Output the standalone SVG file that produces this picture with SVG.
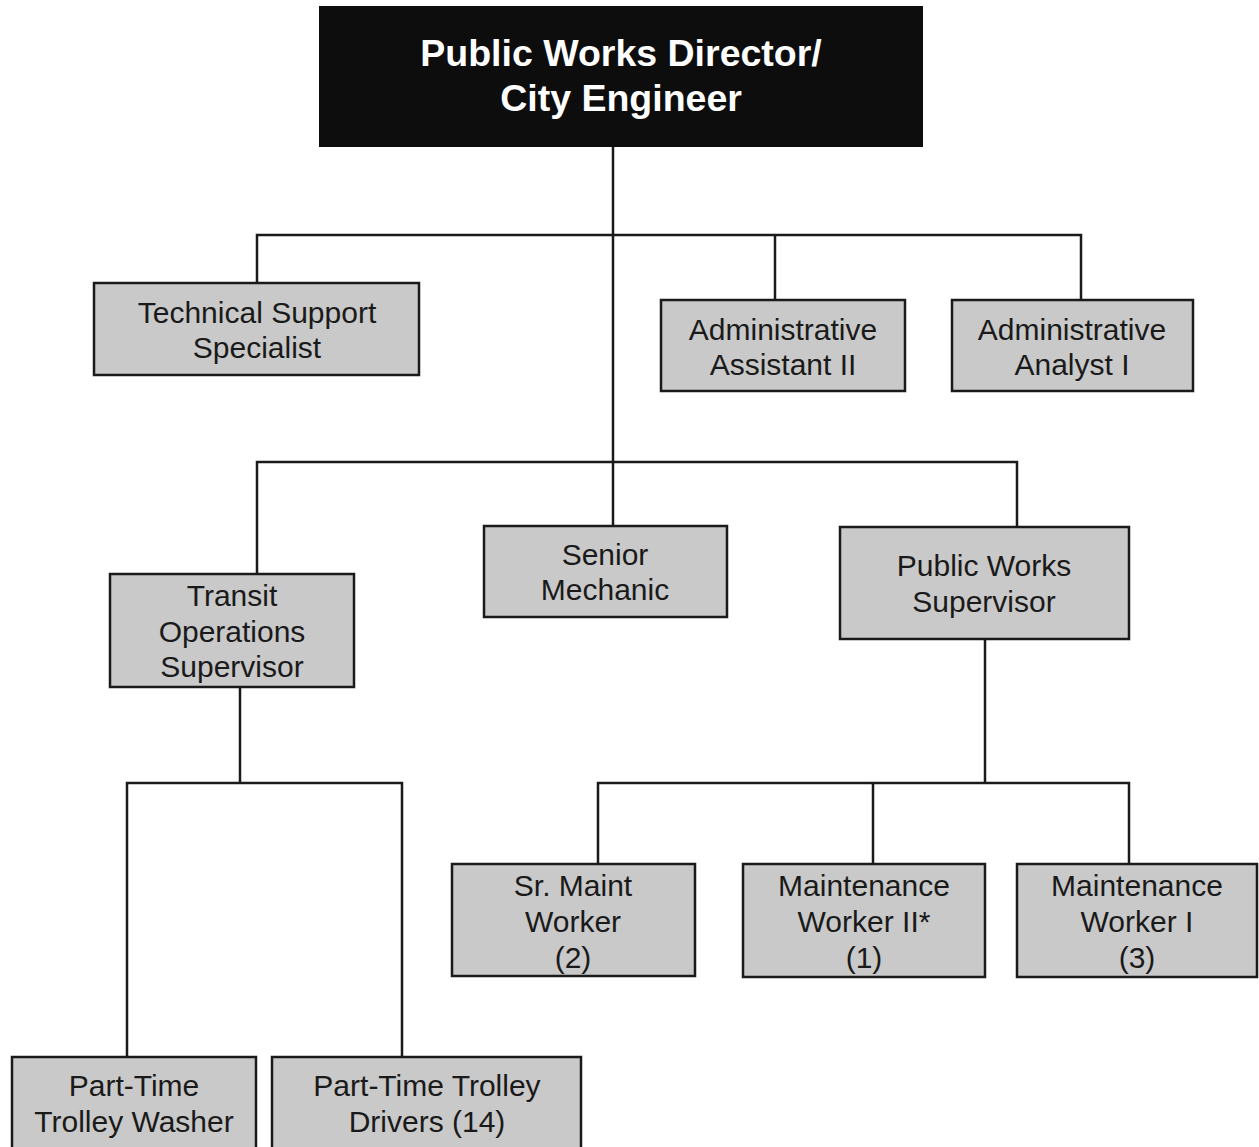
<svg xmlns="http://www.w3.org/2000/svg" width="1259" height="1147" viewBox="0 0 1259 1147">
<style>
.box{fill:#c9c9c9;stroke:#1a1a1a;stroke-width:2.5}
.top{fill:#0d0d0d;stroke:#0d0d0d;stroke-width:2}
.t{font-family:"Liberation Sans",Arial,sans-serif;font-size:30px;fill:#1a1a1a;text-anchor:middle}
.tt{font-family:"Liberation Sans",Arial,sans-serif;font-size:37.5px;font-weight:bold;fill:#ffffff;text-anchor:middle}
.c{fill:none;stroke:#1a1a1a;stroke-width:2.5}
</style>
<rect width="1259" height="1147" fill="#ffffff"/>
<g id="connectors">
<path class="c" d="M613 146V526"/>
<path class="c" d="M257 283V235H1081V300"/>
<path class="c" d="M775 235V300"/>
<path class="c" d="M257 574V462H1017V527"/>
<path class="c" d="M240 687V783"/>
<path class="c" d="M127 1057V783H402V1057"/>
<path class="c" d="M985 639V783"/>
<path class="c" d="M598 864V783H1129V864"/>
<path class="c" d="M873 783V864"/>
</g>
<g id="director">
<rect class="top" x="320" y="7" width="602" height="139"/>
<text class="tt" x="621" y="66">Public Works Director/</text>
<text class="tt" x="621" y="111">City Engineer</text>
</g>
<g id="tech-support">
<rect class="box" x="94" y="283" width="325" height="92"/>
<text class="t" x="257" y="323">Technical Support</text>
<text class="t" x="257" y="358">Specialist</text>
</g>
<g id="admin-assistant">
<rect class="box" x="661" y="300" width="244" height="91"/>
<text class="t" x="783" y="340">Administrative</text>
<text class="t" x="783" y="375">Assistant II</text>
</g>
<g id="admin-analyst">
<rect class="box" x="952" y="300" width="241" height="91"/>
<text class="t" x="1072" y="340">Administrative</text>
<text class="t" x="1072" y="375">Analyst I</text>
</g>
<g id="transit-supervisor">
<rect class="box" x="110" y="574" width="244" height="113"/>
<text class="t" x="232" y="606">Transit</text>
<text class="t" x="232" y="642">Operations</text>
<text class="t" x="232" y="677">Supervisor</text>
</g>
<g id="senior-mechanic">
<rect class="box" x="484" y="526" width="243" height="91"/>
<text class="t" x="605" y="565">Senior</text>
<text class="t" x="605" y="600">Mechanic</text>
</g>
<g id="pw-supervisor">
<rect class="box" x="840" y="527" width="289" height="112"/>
<text class="t" x="984" y="576">Public Works</text>
<text class="t" x="984" y="612">Supervisor</text>
</g>
<g id="sr-maint">
<rect class="box" x="452" y="864" width="243" height="112"/>
<text class="t" x="573" y="896">Sr. Maint</text>
<text class="t" x="573" y="932">Worker</text>
<text class="t" x="573" y="968">(2)</text>
</g>
<g id="maint-ii">
<rect class="box" x="743" y="864" width="242" height="113"/>
<text class="t" x="864" y="896">Maintenance</text>
<text class="t" x="864" y="932">Worker II*</text>
<text class="t" x="864" y="968">(1)</text>
</g>
<g id="maint-i">
<rect class="box" x="1017" y="864" width="240" height="113"/>
<text class="t" x="1137" y="896">Maintenance</text>
<text class="t" x="1137" y="932">Worker I</text>
<text class="t" x="1137" y="968">(3)</text>
</g>
<g id="trolley-washer">
<rect class="box" x="12" y="1057" width="244" height="100"/>
<text class="t" x="134" y="1096">Part-Time</text>
<text class="t" x="134" y="1132">Trolley Washer</text>
</g>
<g id="trolley-drivers">
<rect class="box" x="272" y="1057" width="309" height="100"/>
<text class="t" x="427" y="1096">Part-Time Trolley</text>
<text class="t" x="427" y="1132">Drivers (14)</text>
</g>
</svg>
